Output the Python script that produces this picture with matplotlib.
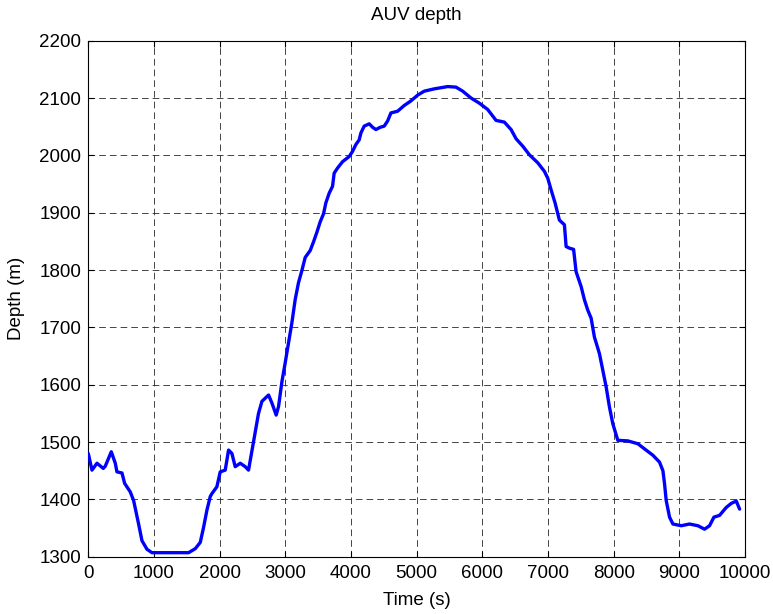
import matplotlib
matplotlib.use("Agg")
import matplotlib.pyplot as plt

plt.rcParams['font.family'] = ['Liberation Sans', 'DejaVu Sans']
plt.rcParams['lines.scale_dashes'] = False

time_s = [0, 56, 132, 228, 259, 350, 411, 436, 513, 553, 639, 690, 766, 817, 893,
          969, 1100, 1300, 1527, 1629, 1705, 1755, 1806, 1857, 1882, 1958, 2009,
          2085, 2136, 2187, 2237, 2314, 2390, 2440, 2466, 2516, 2557, 2592, 2644,
          2745, 2796, 2861, 2897, 2948, 2998, 3049, 3100, 3151, 3201, 3252, 3303,
          3379, 3429, 3481, 3531, 3582, 3617, 3668, 3719, 3744, 3796, 3872, 3973,
          4024, 4075, 4125, 4151, 4201, 4278, 4329, 4380, 4445, 4506, 4558, 4608,
          4710, 4811, 4913, 5015, 5116, 5268, 5473, 5599, 5701, 5828, 5955, 6082,
          6209, 6336, 6438, 6514, 6616, 6717, 6845, 6946, 6997, 7047, 7108, 7174,
          7250, 7276, 7330, 7390, 7428, 7505, 7555, 7606, 7657, 7707, 7784, 7835,
          7886, 7936, 7987, 8063, 8216, 8369, 8470, 8597, 8698, 8750, 8775, 8800,
          8851, 8902, 9029, 9155, 9283, 9384, 9460, 9527, 9612, 9715, 9791, 9867,
          9918]
depth_m = [1480, 1451, 1463, 1454, 1458, 1483, 1463, 1448, 1446, 1428, 1413, 1398,
           1357, 1328, 1313, 1307, 1307, 1307, 1307, 1314, 1325, 1351, 1381, 1405,
           1410, 1422, 1448, 1451, 1486, 1480, 1457, 1463, 1457, 1451, 1468, 1500,
           1527, 1550, 1571, 1582, 1568, 1547, 1562, 1605, 1638, 1673, 1708, 1749,
           1778, 1799, 1822, 1834, 1849, 1866, 1884, 1898, 1917, 1934, 1946, 1969,
           1978, 1989, 1998, 2007, 2019, 2027, 2039, 2051, 2055, 2049, 2045, 2049,
           2051, 2060, 2074, 2077, 2087, 2095, 2105, 2112, 2116, 2120, 2119, 2112,
           2100, 2091, 2080, 2061, 2058, 2045, 2029, 2016, 2001, 1987, 1972, 1960,
           1940, 1917, 1887, 1879, 1841, 1838, 1836, 1797, 1771, 1748, 1730, 1716,
           1683, 1654, 1625, 1596, 1561, 1532, 1503, 1502, 1497, 1488, 1477, 1465,
           1450, 1427, 1398, 1369, 1357, 1354, 1357, 1354, 1348, 1354, 1369, 1372,
           1386, 1393, 1397, 1383]

x_ticks = list(range(0, 10001, 1000))
y_ticks = list(range(1300, 2201, 100))

fig = plt.figure(figsize=(7.73, 6.14), dpi=100)
ax = fig.add_axes([88.3 / 773, 1 - 556.7 / 614, (745 - 88.3) / 773, (556.7 - 40.7) / 614])

ax.plot(time_s, depth_m, color=(0, 0, 1), linewidth=2.4, zorder=3,
        solid_joinstyle='round', solid_capstyle='round')

ax.set_xlim(0, 10000)
ax.set_ylim(1300, 2200)
ax.set_xticks(x_ticks)
ax.set_yticks(y_ticks)
ax.set_xticklabels([str(v) for v in x_ticks])
ax.set_yticklabels([str(v) for v in y_ticks])

ax.grid(True, color='0.15', linestyle=(0, (4.8, 2.9)), linewidth=0.6)
ax.tick_params(direction='in', length=4, width=0.8, labelsize=13.5,
               top=True, right=True)
ax.tick_params(axis='x', pad=6)
ax.tick_params(axis='y', pad=5)
for sp in ax.spines.values():
    sp.set_linewidth(0.8)
    sp.set_color('black')

ax.set_title('AUV depth', fontsize=13.5, pad=15)
ax.set_xlabel('Time (s)', fontsize=13.5, labelpad=7)
ax.set_ylabel('Depth (m)', fontsize=13.5, labelpad=10)

fig.savefig('out.png', dpi=100)
